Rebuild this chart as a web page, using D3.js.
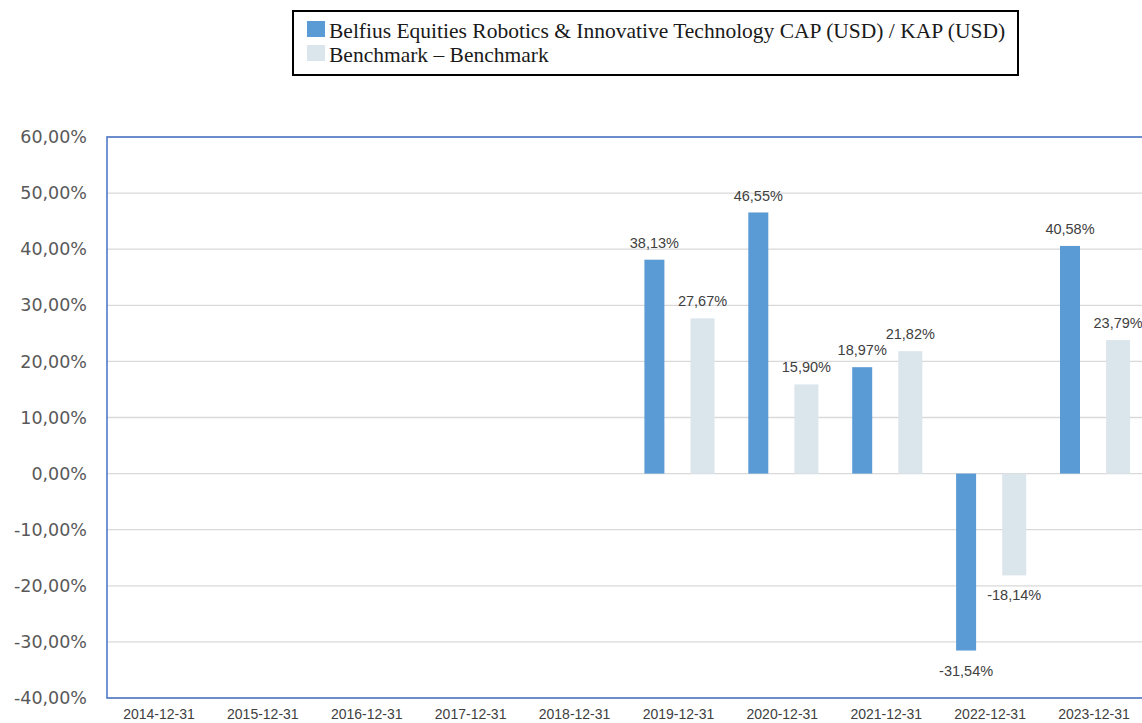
<!DOCTYPE html>
<html>
<head>
<meta charset="utf-8">
<script src="https://cdn.jsdelivr.net/npm/d3@7"></script>
<style>
  body { margin: 0; background: #fff; }
  svg { display: block; }
</style>
</head>
<body>
<div id="chart"></div>
<script>
// data
const years = ["2014-12-31", "2015-12-31", "2016-12-31", "2017-12-31", "2018-12-31",
  "2019-12-31", "2020-12-31", "2021-12-31", "2022-12-31", "2023-12-31"];
const fund = [null, null, null, null, null, 38.13, 46.55, 18.97, -31.54, 40.58];
const bench = [null, null, null, null, null, 27.67, 15.90, 21.82, -18.14, 23.79];
const seriesNames = ["Belfius Equities Robotics & Innovative Technology CAP (USD) / KAP (USD)", "Benchmark \u2013 Benchmark"];
const yTicks = [-40, -30, -20, -10, 0, 10, 20, 30, 40, 50, 60];

const W = 1142, H = 723;
const plot = { left: 107, top: 137, right: 1146, bottom: 698 };
const colors = ["#5b9bd5", "#dbe5ec"];
const fmt = v => v.toFixed(2).replace(".", ",") + "%";

const svg = d3.select("#chart").append("svg").attr("width", W).attr("height", H);

const x0 = d3.scaleBand().domain(years).range([plot.left, plot.right]);
const x1 = d3.scaleBand().domain([0, 1]).range([0, x0.bandwidth()]).paddingInner(0.5).paddingOuter(0.33);
const y = d3.scaleLinear().domain([-40, 60]).range([plot.bottom, plot.top]);

// grid
svg.append("g").selectAll("line").data(yTicks).join("line")
  .attr("x1", plot.left).attr("x2", plot.right)
  .attr("y1", d => y(d)).attr("y2", d => y(d))
  .attr("stroke", "#d9d9d9").attr("stroke-width", 1.3);

// y labels
svg.append("g").selectAll("text").data(yTicks).join("text")
  .attr("x", 87).attr("y", d => y(d)).attr("dy", "0.35em")
  .attr("text-anchor", "end")
  .attr("font-family", "'DejaVu Sans', sans-serif").attr("font-size", 17.5)
  .attr("fill", "#595959")
  .text(d => d.toFixed(2).replace(".", ",") + "%");

// x labels
svg.append("g").selectAll("text").data(years).join("text")
  .attr("x", d => x0(d) + x0.bandwidth() / 2).attr("y", 719)
  .attr("text-anchor", "middle")
  .attr("font-family", "'Liberation Sans', Arial, sans-serif").attr("font-size", 14)
  .attr("fill", "#404040")
  .text(d => d);

// bars
const rows = [];
years.forEach((yr, i) => {
  [fund[i], bench[i]].forEach((v, s) => { if (v != null) rows.push({ yr, s, v }); });
});
const barW = [20, 24];
const cx = d => x0(d.yr) + x1(d.s) + x1.bandwidth() / 2;

svg.append("g").selectAll("rect").data(rows).join("rect")
  .attr("x", d => cx(d) - barW[d.s] / 2)
  .attr("width", d => barW[d.s])
  .attr("y", d => y(Math.max(0, d.v)))
  .attr("height", d => Math.abs(y(d.v) - y(0)))
  .attr("fill", d => colors[d.s]);

// value labels
svg.append("g").selectAll("text").data(rows).join("text")
  .attr("x", cx)
  .attr("y", d => d.v >= 0 ? y(d.v) - 17 : y(d.v) + 20)
  .attr("dy", "0.35em")
  .attr("text-anchor", "middle")
  .attr("font-family", "'Liberation Sans', Arial, sans-serif").attr("font-size", 14.5)
  .attr("fill", "#404040")
  .text(d => fmt(d.v));

// plot frame
svg.append("path")
  .attr("d", `M${plot.right},${plot.top}H${plot.left}V${plot.bottom}H${plot.right}`)
  .attr("fill", "none").attr("stroke", "#4472c4").attr("stroke-width", 1.5);

// legend
const lg = svg.append("g");
lg.append("rect").attr("x", 293).attr("y", 11).attr("width", 725).attr("height", 64)
  .attr("fill", "#fff").attr("stroke", "#000").attr("stroke-width", 2);
seriesNames.forEach((name, i) => {
  lg.append("rect").attr("x", 307).attr("y", 21 + i * 24).attr("width", 18).attr("height", 16)
    .attr("fill", colors[i]);
  lg.append("text").attr("x", 329).attr("y", 38 + i * 24)
    .attr("font-family", "'Liberation Serif', 'Times New Roman', serif").attr("font-size", 21.5)
    .attr("fill", "#1a1a1a")
    .text(name);
});
</script>
</body>
</html>
